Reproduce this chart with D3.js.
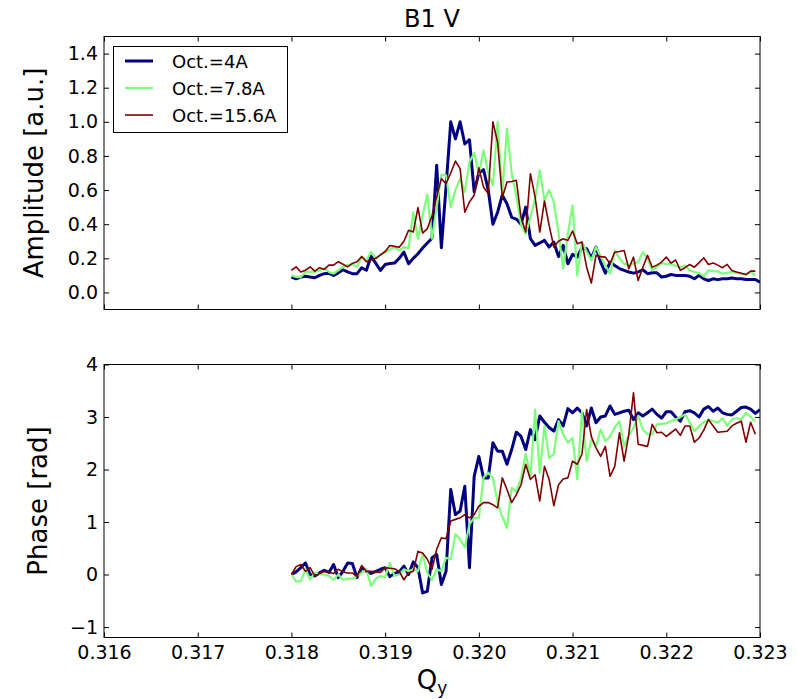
<!DOCTYPE html>
<html>
<head>
<meta charset="utf-8">
<script src="https://cdn.jsdelivr.net/npm/d3@7"></script>
<style>
  body { margin: 0; background: #fff; }
  svg { display: block; font-family: "DejaVu Sans", sans-serif; }
</style>
</head>
<body>
<svg id="chart" width="798" height="699"></svg>
<script>
// Tune scan: amplitude and phase response vs vertical tune Qy for three octupole currents
const qStart = 0.318;
const qStep = 0.00005;

const seriesNames = ["Oct.=4A", "Oct.=7.8A", "Oct.=15.6A"];
const seriesColors = ["#000080", "#7dff7a", "#800000"];
const seriesWidths = [3, 2.2, 1.6];

const xTicks = [0.316, 0.317, 0.318, 0.319, 0.320, 0.321, 0.322, 0.323];
const ampTicks = [0.0, 0.2, 0.4, 0.6, 0.8, 1.0, 1.2, 1.4];
const phaseTicks = [-1, 0, 1, 2, 3, 4];

const amp4A = [
  0.09, 0.08, 0.09, 0.095, 0.09, 0.086, 0.10, 0.11, 0.113, 0.10,
  0.115, 0.133, 0.12, 0.11, 0.11, 0.145, 0.13, 0.213, 0.17, 0.129,
  0.164, 0.17, 0.172, 0.20, 0.236, 0.168, 0.20, 0.227, 0.26, 0.29,
  0.318, 0.745, 0.262, 0.62, 1.0, 0.90, 1.0, 0.87, 0.895, 0.59,
  0.70, 0.72, 0.60, 0.40, 0.47, 0.57, 0.52, 0.44, 0.43, 0.40,
  0.50, 0.315, 0.276, 0.29, 0.305, 0.266, 0.295, 0.21, 0.276, 0.168,
  0.223, 0.207, 0.262, 0.256, 0.20, 0.266, 0.178, 0.113, 0.178, 0.158,
  0.14, 0.129, 0.12, 0.113, 0.12, 0.133, 0.11, 0.115, 0.115, 0.09,
  0.095, 0.105, 0.10, 0.10, 0.10, 0.095, 0.08, 0.10, 0.08, 0.07,
  0.08, 0.075, 0.08, 0.08, 0.084, 0.08, 0.08, 0.076, 0.076, 0.076,
  0.06
];
const amp78A = [
  0.10, 0.09, 0.09, 0.12, 0.12, 0.12, 0.13, 0.14, 0.12, 0.11,
  0.13, 0.15, 0.16, 0.165, 0.15, 0.21, 0.19, 0.236, 0.20, 0.22,
  0.236, 0.25, 0.266, 0.246, 0.266, 0.26, 0.47, 0.315, 0.45, 0.575,
  0.315, 0.50, 0.69, 0.686, 0.50, 0.60, 0.667, 0.59, 0.764, 0.817,
  0.696, 0.833, 0.70, 0.628, 1.0, 0.579, 0.96, 0.70, 0.56, 0.40,
  0.344, 0.44, 0.55, 0.716, 0.54, 0.60, 0.53, 0.35, 0.14, 0.344,
  0.51, 0.10, 0.295, 0.24, 0.188, 0.266, 0.21, 0.158, 0.11, 0.246,
  0.20, 0.168, 0.16, 0.17, 0.178, 0.236, 0.20, 0.13, 0.15, 0.172,
  0.165, 0.168, 0.155, 0.148, 0.158, 0.129, 0.12, 0.113, 0.094, 0.13,
  0.125, 0.123, 0.11, 0.115, 0.12, 0.115, 0.11, 0.105, 0.12, 0.10
];
const amp156A = [
  0.13, 0.15, 0.12, 0.13, 0.15, 0.125, 0.145, 0.135, 0.16, 0.16,
  0.18, 0.165, 0.15, 0.17, 0.18, 0.21, 0.18, 0.19, 0.20, 0.22,
  0.24, 0.275, 0.27, 0.265, 0.30, 0.364, 0.354, 0.497, 0.348, 0.374,
  0.45, 0.56, 0.667, 0.637, 0.70, 0.77, 0.726, 0.47, 0.53, 0.57,
  0.73, 0.617, 0.579, 1.0, 0.88, 0.555, 0.647, 0.65, 0.657, 0.44,
  0.354, 0.696, 0.56, 0.354, 0.536, 0.393, 0.266, 0.30, 0.315, 0.305,
  0.36, 0.286, 0.295, 0.148, 0.055, 0.217, 0.21, 0.207, 0.168, 0.236,
  0.24, 0.246, 0.139, 0.207, 0.07, 0.148, 0.217, 0.148, 0.16, 0.178,
  0.207, 0.172, 0.19, 0.129, 0.145, 0.164, 0.148, 0.175, 0.203, 0.164,
  0.172, 0.16, 0.145, 0.164, 0.129, 0.12, 0.113, 0.105, 0.125, 0.125
];

const phase4A = [
  0.0, 0.05, 0.13, 0.22, 0.0, -0.03, 0.03, 0.08, 0.04, 0.19,
  -0.06, 0.06, 0.22, 0.21, -0.06, 0.13, 0.06, 0.02, 0.06, 0.10,
  0.13, -0.04, 0.02, 0.05, 0.16, 0.0, 0.24, 0.13, -0.35, -0.32,
  0.32, 0.38, -0.19, 0.06, 1.62, 1.14, 1.21, 1.68, 0.13, 1.87,
  2.25, 1.84, 1.84, 2.51, 2.35, 2.35, 2.10, 2.38, 2.71, 2.63,
  2.38, 2.76, 2.57, 3.02, 2.90, 2.80, 2.73, 2.95, 2.83, 3.16,
  3.08, 3.17, 3.08, 2.83, 3.17, 2.89, 3.0, 3.02, 3.21, 3.05,
  3.08, 3.11, 3.13, 2.95, 3.08, 3.02, 3.08, 3.15, 3.05, 2.98,
  3.10, 3.10, 3.0, 2.92, 3.10, 3.12, 3.08, 3.0, 3.15, 3.20,
  3.11, 3.17, 3.08, 3.05, 3.04, 3.11, 3.18, 3.19, 3.15, 3.07,
  3.14
];
const phase78A = [
  0.0, -0.13, -0.13, 0.10, -0.10, 0.04, 0.0, 0.0, -0.03, -0.10,
  0.0, -0.10, -0.08, -0.08, -0.03, 0.03, 0.10, -0.22, -0.08, -0.03,
  -0.05, 0.22, -0.03, 0.0, 0.10, 0.06, 0.10, 0.06, 0.38, 0.03,
  -0.10, 0.10, 0.06, 0.32, 0.29, 0.77, 0.67, 0.52, 0.96, 1.08,
  1.08, 1.85, 1.94, 1.84, 1.37, 1.10, 0.89, 1.65, 1.58, 1.84,
  2.30, 1.87, 3.14, 1.94, 2.83, 2.22, 2.29, 2.92, 2.67, 2.51,
  2.60, 1.81, 3.11, 2.16, 2.57, 2.44, 2.76, 2.54, 2.63, 2.80,
  2.92, 2.44, 2.65, 2.79, 3.02, 2.76, 2.67, 2.67, 2.86, 2.87,
  2.88, 2.92, 2.95, 3.0, 3.05, 2.90, 2.73, 2.83, 2.90, 2.95,
  2.92, 2.89, 2.98, 2.83, 2.95, 2.98, 2.95, 3.08, 3.0, 2.92
];
const phase156A = [
  0.0, 0.15, 0.19, 0.06, 0.13, -0.03, 0.02, 0.06, 0.04, 0.02,
  0.10, 0.05, 0.03, 0.03, -0.04, 0.17, 0.06, 0.06, 0.05, 0.04,
  0.13, 0.12, 0.11, 0.06, -0.10, 0.03, 0.06, 0.44, 0.41, 0.29,
  0.10, 0.48, 0.70, 0.68, 1.02, 1.05, 1.08, 1.14, 1.08, 1.14,
  1.30, 1.37, 1.37, 1.33, 1.27, 1.84, 1.62, 1.37, 1.52, 1.71,
  2.10, 1.81, 1.90, 1.40, 2.06, 1.81, 1.31, 1.71, 1.82, 1.84,
  2.16, 2.10, 2.29, 3.14, 2.63, 2.41, 2.25, 2.44, 1.87, 2.06,
  2.70, 2.16, 2.67, 3.46, 2.48, 2.46, 2.44, 2.86, 2.70, 2.71,
  2.63, 2.70, 2.77, 2.65, 2.83, 2.83, 2.52, 2.60, 2.75, 2.95,
  2.83, 2.71, 2.72, 2.73, 2.83, 2.88, 2.92, 2.52, 2.90, 2.67
];

const ampSeries = [amp4A, amp78A, amp156A];
const phaseSeries = [phase4A, phase78A, phase156A];

const svg = d3.select("#chart");
const left = 104, right = 760;

const x = d3.scaleLinear().domain([0.316, 0.323]).range([left, right]);

const panels = [
  { id: "amp", top: 36.5, bottom: 309.5, domain: [-0.1, 1.5], ticks: ampTicks,
    fmt: d3.format(".1f"), series: ampSeries, label: "Amplitude [a.u.]", labelX: 34, showX: false },
  { id: "phase", top: 364.5, bottom: 637.5, domain: [-1.2, 4], ticks: phaseTicks,
    fmt: d3.format("d"), series: phaseSeries, label: "Phase [rad]", labelX: 38, showX: true }
];

const tickLen = 5;

panels.forEach(p => {
  const y = d3.scaleLinear().domain(p.domain).range([p.bottom, p.top]);
  const g = svg.append("g");

  g.append("clipPath").attr("id", "clip-" + p.id)
    .append("rect").attr("x", left).attr("y", p.top)
    .attr("width", right - left).attr("height", p.bottom - p.top);

  const lines = g.append("g").attr("clip-path", `url(#clip-${p.id})`);
  p.series.forEach((vals, k) => {
    const line = d3.line()
      .x((d, i) => x(qStart + i * qStep))
      .y(d => y(d));
    lines.append("path")
      .datum(vals)
      .attr("fill", "none")
      .attr("stroke", seriesColors[k])
      .attr("stroke-width", seriesWidths[k])
      .attr("stroke-linejoin", "round")
      .attr("d", line);
  });

  // inward ticks on all four sides
  const axB = d3.axisBottom(x).tickValues(xTicks).tickSizeInner(-tickLen).tickSizeOuter(0)
    .tickPadding(8).tickFormat(p.showX ? d3.format(".3f") : () => "");
  const axT = d3.axisTop(x).tickValues(xTicks).tickSizeInner(-tickLen).tickSizeOuter(0).tickFormat(() => "");
  const axL = d3.axisLeft(y).tickValues(p.ticks).tickSizeInner(-tickLen).tickSizeOuter(0)
    .tickPadding(6).tickFormat(p.fmt);
  const axR = d3.axisRight(y).tickValues(p.ticks).tickSizeInner(-tickLen).tickSizeOuter(0).tickFormat(() => "");

  const axes = [
    g.append("g").attr("transform", `translate(0,${p.bottom})`).call(axB),
    g.append("g").attr("transform", `translate(0,${p.top})`).call(axT),
    g.append("g").attr("transform", `translate(${left},0)`).call(axL),
    g.append("g").attr("transform", `translate(${right},0)`).call(axR)
  ];
  axes.forEach(a => {
    a.select(".domain").remove();
    a.selectAll("line").attr("stroke", "#000").attr("stroke-width", 1);
    a.selectAll("text").attr("fill", "#000").style("font-size", "19px")
      .style("font-family", "DejaVu Sans, sans-serif");
  });

  g.append("rect")
    .attr("x", left).attr("y", p.top)
    .attr("width", right - left).attr("height", p.bottom - p.top)
    .attr("fill", "none").attr("stroke", "#000").attr("stroke-width", 1);

  g.append("text")
    .attr("transform", `translate(${p.labelX},${(p.top + p.bottom) / 2}) rotate(-90)`)
    .attr("text-anchor", "middle")
    .attr("dominant-baseline", "central")
    .style("font-size", "26px")
    .text(p.label);
});

// title
svg.append("text")
  .attr("x", (left + right) / 2).attr("y", 27)
  .attr("text-anchor", "middle")
  .style("font-size", "24px")
  .text("B1 V");

// x label Q_y
const xl = svg.append("text")
  .attr("x", (left + right) / 2).attr("y", 689)
  .attr("text-anchor", "middle")
  .style("font-size", "26px");
xl.append("tspan").text("Q");
xl.append("tspan").attr("dy", 5).style("font-size", "17px").text("y");

// legend
const lg = svg.append("g");
lg.append("rect")
  .attr("x", 113.5).attr("y", 46.5).attr("width", 174).attr("height", 86)
  .attr("fill", "#fff").attr("stroke", "#000").attr("stroke-width", 1);
seriesNames.forEach((name, k) => {
  const cy = 61 + k * 27;
  lg.append("line")
    .attr("x1", 125).attr("x2", 153).attr("y1", cy).attr("y2", cy)
    .attr("stroke", seriesColors[k]).attr("stroke-width", seriesWidths[k]);
  lg.append("text")
    .attr("x", 172).attr("y", cy)
    .attr("dominant-baseline", "central")
    .style("font-size", "18px")
    .text(name);
});
</script>
</body>
</html>
